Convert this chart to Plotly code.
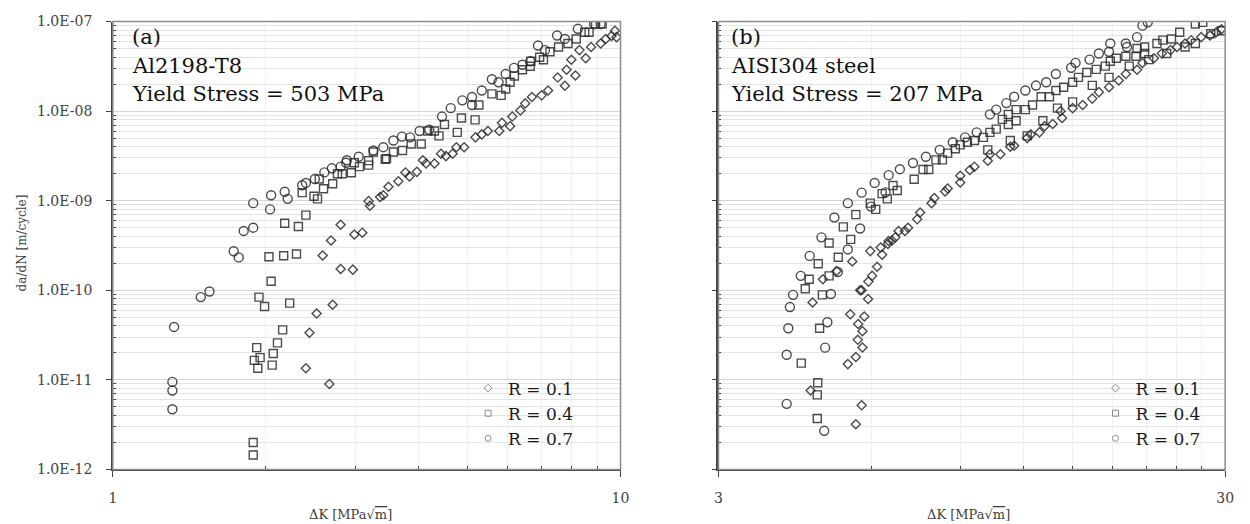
import plotly.graph_objects as go

# ---------------- Panel (a): Al2198-T8 ----------------
a_r01_dk = [2.67, 2.40, 2.44, 2.52, 2.71, 2.81, 2.97, 2.59, 2.69, 2.81, 2.99, 3.10, 3.19, 3.21, 3.36,
            3.41, 3.49, 3.65, 3.77, 3.84, 3.97, 4.08, 4.14, 4.30, 4.43, 4.53, 4.67, 4.75, 4.92, 5.18,
            5.33, 5.48, 5.77, 6.06, 5.84, 6.12, 6.35, 6.49, 6.69, 6.99, 7.20, 7.52, 7.83, 7.77, 8.15,
            8.00, 8.30, 8.54, 8.75, 9.14, 9.35, 9.60, 9.75, 9.82]
a_r01_dadn = [9.0e-12, 1.35e-11, 3.36e-11, 5.5e-11, 6.9e-11, 1.73e-10, 1.70e-10, 2.45e-10, 3.6e-10,
              5.4e-10, 4.2e-10, 4.4e-10, 9.9e-10, 8.8e-10, 1.1e-9, 1.15e-9, 1.43e-9, 1.65e-9, 2.07e-9,
              1.87e-9, 2.1e-9, 2.83e-9, 2.6e-9, 2.6e-9, 3.35e-9, 3.15e-9, 3.35e-9, 3.96e-9, 3.96e-9,
              5.1e-9, 5.5e-9, 6.0e-9, 6.0e-9, 6.8e-9, 7.4e-9, 8.7e-9, 1.02e-8, 1.22e-8, 1.44e-8, 1.5e-8,
              1.7e-8, 2.37e-8, 2.9e-8, 1.92e-8, 2.5e-8, 3.75e-8, 4.8e-8, 3.9e-8, 5.2e-8, 5.7e-8, 6.4e-8,
              6.9e-8, 7.9e-8, 6.7e-8]

a_r04_dk = [1.89, 1.89, 1.92, 1.90, 1.95, 1.93, 2.06, 2.07, 2.11, 2.16, 2.23, 1.94, 1.99, 2.05, 2.03,
            2.17, 2.30, 2.18, 2.32, 2.40, 2.49, 2.53, 2.36, 2.60, 2.71, 2.55, 2.77, 2.83, 2.95, 2.99,
            3.06, 3.19, 3.19, 3.44, 3.26, 3.46, 3.57, 3.72, 3.87, 4.05, 4.17, 4.30, 4.39, 4.50, 4.77,
            4.86, 5.17, 5.26, 5.58, 5.82, 5.94, 6.06, 6.18, 6.41, 6.66, 6.64, 6.93, 7.05, 7.26, 7.55,
            7.88, 8.18, 8.50, 8.67, 8.93, 9.20]
a_r04_dadn = [2.0e-12, 1.45e-12, 2.29e-11, 1.65e-11, 1.77e-11, 1.35e-11, 1.46e-11, 1.97e-11, 2.59e-11,
              3.62e-11, 7.2e-11, 8.4e-11, 6.6e-11, 1.26e-10, 2.37e-10, 2.43e-10, 2.54e-10, 5.6e-10,
              5.15e-10, 6.9e-10, 1.12e-9, 1.05e-9, 1.23e-9, 1.36e-9, 1.55e-9, 1.75e-9, 2.0e-9, 2.0e-9,
              2.05e-9, 2.65e-9, 2.4e-9, 2.5e-9, 2.8e-9, 2.9e-9, 3.5e-9, 2.95e-9, 3.5e-9, 3.63e-9, 4.3e-9,
              4.3e-9, 6.0e-9, 6.0e-9, 5.3e-9, 7.1e-9, 5.8e-9, 8.4e-9, 8.0e-9, 1.17e-8, 1.56e-8, 1.5e-8,
              1.77e-8, 2.1e-8, 2.47e-8, 2.9e-8, 3.6e-8, 3.17e-8, 4.0e-8, 3.75e-8, 4.6e-8, 5.2e-8, 5.7e-8,
              6.4e-8, 7.6e-8, 7.6e-8, 9.4e-8, 9.4e-8]

a_r07_dk = [1.32, 1.31, 1.31, 1.31, 1.49, 1.55, 1.73, 1.77, 1.81, 1.89, 1.89, 2.05, 2.04, 2.18, 2.21,
            2.36, 2.40, 2.50, 2.61, 2.70, 2.81, 2.88, 2.89, 3.05, 3.26, 3.41, 3.57, 3.71, 3.85, 4.02,
            4.20, 4.45, 4.63, 4.88, 5.10, 5.33, 5.58, 5.75, 5.94, 6.17, 6.41, 6.64, 6.88, 7.10, 7.50,
            7.77, 8.24, 8.87, 9.14, 5.10]
a_r07_dadn = [3.9e-11, 9.5e-12, 7.6e-12, 4.7e-12, 8.4e-11, 9.7e-11, 2.73e-10, 2.33e-10, 4.6e-10, 5.0e-10,
              9.4e-10, 1.15e-9, 8.0e-10, 1.26e-9, 1.05e-9, 1.49e-9, 1.58e-9, 1.75e-9, 2.07e-9, 2.3e-9,
              2.4e-9, 2.65e-9, 2.83e-9, 3.1e-9, 3.63e-9, 3.96e-9, 4.7e-9, 5.2e-9, 5.1e-9, 6.0e-9, 6.2e-9,
              8.7e-9, 1.08e-8, 1.32e-8, 1.44e-8, 1.7e-8, 2.27e-8, 2.1e-8, 2.6e-8, 3.04e-8, 3.3e-8, 3.6e-8,
              5.4e-8, 4.8e-8, 7.0e-8, 6.4e-8, 8.3e-8, 9.4e-8, 9.4e-8, 1.17e-8]

# ---------------- Panel (b): AISI304 steel ----------------
b_r01_dk = [5.60, 5.75, 4.56, 5.40, 5.60, 5.77, 5.65, 5.77, 5.66, 5.82, 5.46, 5.92, 4.60, 4.82, 5.51,
            5.13, 5.71, 5.75, 5.93, 6.03, 6.17, 5.98, 6.27, 6.31, 6.48, 6.60, 6.80, 6.50, 6.70, 7.00,
            7.10, 7.40, 7.50, 7.90, 8.00, 8.40, 8.50, 9.00, 9.00, 9.40, 9.60, 10.2, 10.3, 10.8, 11.3,
            11.5, 12.2, 12.4, 12.9, 13.2, 13.7, 14.3, 14.2, 15.0, 15.7, 16.4, 16.9, 17.7, 18.5, 19.1,
            20.1, 20.6, 21.7, 22.5, 23.4, 24.1, 25.0, 25.7, 26.9, 28.0, 28.8, 29.5]
b_r01_dadn = [3.2e-12, 5.2e-12, 7.6e-12, 1.5e-11, 1.8e-11, 2.3e-11, 2.8e-11, 3.5e-11, 4.2e-11, 5.1e-11,
              5.4e-11, 8.0e-11, 7.3e-11, 1.33e-10, 2.1e-10, 1.64e-10, 1.0e-10, 1.0e-10, 1.25e-10,
              1.45e-10, 1.83e-10, 2.74e-10, 3.0e-10, 2.5e-10, 3.3e-10, 3.6e-10, 4.6e-10, 3.55e-10,
              3.9e-10, 4.6e-10, 5.0e-10, 6.2e-10, 7.4e-10, 9.4e-10, 1.07e-9, 1.27e-9, 1.37e-9, 1.6e-9,
              1.9e-9, 2.2e-9, 2.4e-9, 2.8e-9, 3.3e-9, 3.3e-9, 4.0e-9, 4.1e-9, 5.0e-9, 5.5e-9, 5.8e-9,
              6.8e-9, 7.2e-9, 8.4e-9, 1.0e-8, 1.08e-8, 1.17e-8, 1.38e-8, 1.63e-8, 1.85e-8, 2.2e-8,
              2.6e-8, 2.9e-8, 3.45e-8, 3.9e-8, 4.4e-8, 4.8e-8, 5.2e-8, 5.7e-8, 6.2e-8, 6.7e-8, 7.0e-8,
              7.6e-8, 8.2e-8]

b_r04_dk = [4.70, 4.70, 4.71, 4.37, 4.75, 4.81, 4.45, 4.53, 4.96, 4.72, 5.17, 4.96, 5.47, 5.29, 5.60,
            5.98, 6.13, 6.31, 6.46, 6.63, 6.76, 7.30, 7.60, 7.80, 8.06, 8.30, 8.50, 8.80, 9.00, 9.30,
            9.60, 10.0, 10.3, 10.6, 10.9, 11.2, 11.2, 11.6, 11.6, 12.1, 12.5, 13.0, 13.5, 13.9, 14.4,
            15.0, 15.4, 16.0, 16.7, 17.4, 17.8, 18.3, 19.1, 20.0, 20.1, 20.8, 20.8, 22.0, 22.6, 23.5,
            24.4, 26.2, 27.1, 10.2, 11.3, 12.2, 13.1, 14.0, 15.0, 16.4, 17.7, 19.4, 21.2, 23.0, 25.0,
            26.2, 28.1, 29.5]
b_r04_dadn = [3.7e-12, 6.8e-12, 9.3e-12, 1.54e-11, 3.77e-11, 8.9e-11, 1.04e-10, 1.33e-10, 1.45e-10,
              1.98e-10, 2.34e-10, 3.37e-10, 3.7e-10, 5.1e-10, 7.0e-10, 9.4e-10, 8.0e-10, 1.2e-9, 1.05e-9,
              1.48e-9, 1.3e-9, 1.74e-9, 2.23e-9, 2.23e-9, 2.86e-9, 2.86e-9, 3.4e-9, 3.8e-9, 4.2e-9,
              4.5e-9, 4.7e-9, 5.1e-9, 5.8e-9, 6.3e-9, 8.1e-9, 9.2e-9, 7.1e-9, 7.8e-9, 1.04e-8, 1.04e-8,
              1.17e-8, 1.45e-8, 1.45e-8, 1.7e-8, 1.85e-8, 2.1e-8, 2.38e-8, 2.7e-8, 2.93e-8, 3.18e-8,
              3.6e-8, 3.9e-8, 4.1e-8, 4.1e-8, 5.0e-8, 5.2e-8, 4.4e-8, 5.7e-8, 6.2e-8, 6.4e-8, 7.6e-8,
              9.4e-8, 9.8e-8, 3.7e-9, 4.7e-9, 5.3e-9, 7.8e-9, 1.08e-8, 1.27e-8, 1.94e-8, 2.38e-8,
              3.18e-8, 3.76e-8, 4.4e-8, 5.2e-8, 5.7e-8, 7.3e-8, 7.9e-8]

b_r07_dk = [4.09, 4.85, 4.09, 4.87, 4.12, 4.92, 4.15, 4.21, 5.00, 4.36, 5.16, 4.54, 4.79, 5.40, 5.08,
            5.40, 5.71, 5.75, 6.10, 6.50, 6.84, 6.00, 6.41, 7.26, 7.70, 8.20, 8.70, 9.20, 9.70, 10.3,
            10.6, 11.1, 11.5, 12.1, 12.7, 13.3, 13.9, 14.9, 15.2, 16.2, 16.9, 17.7, 17.8, 19.1, 19.2,
            20.1, 20.6, 21.1]
b_r07_dadn = [5.4e-12, 2.7e-12, 1.91e-11, 2.29e-11, 3.77e-11, 4.4e-11, 6.5e-11, 8.9e-11, 9.1e-11,
              1.45e-10, 1.6e-10, 2.42e-10, 3.9e-10, 2.86e-10, 6.5e-10, 9.4e-10, 4.9e-10, 1.23e-9, 1.58e-9,
              1.93e-9, 2.25e-9, 8.6e-10, 1.24e-9, 2.64e-9, 3.1e-9, 3.7e-9, 4.5e-9, 5.1e-9, 5.8e-9, 9.2e-9,
              1.04e-8, 1.23e-8, 1.45e-8, 1.7e-8, 1.93e-8, 2.1e-8, 2.6e-8, 3.05e-8, 3.46e-8, 3.76e-8,
              4.4e-8, 4.6e-8, 5.7e-8, 5.7e-8, 5.2e-8, 6.7e-8, 9.0e-8, 9.8e-8]

series_names = ["R = 0.1", "R = 0.4", "R = 0.7"]
y_tick_vals = [1e-12, 1e-11, 1e-10, 1e-9, 1e-8, 1e-7]
y_tick_text = ["1.0E-12", "1.0E-11", "1.0E-10", "1.0E-09", "1.0E-08", "1.0E-07"]
a_x_ticks = [1, 10]
a_x_minor = [2, 3, 4, 5, 6, 7, 8, 9]
b_x_ticks = [3, 30]
b_x_minor = [6, 9, 12, 15, 18, 21, 24, 27]

W, H = 1250, 524
MC = "rgba(45,45,45,0.85)"
LEGC = "#8a8a8a"
SERIF = "DejaVu Serif"
TICKF = "DejaVu Serif"

symbols = ["diamond-open", "square-open", "circle-open"]
sizes = [7, 8, 9]

fig = go.Figure()

panels = [
    ("x", "y", "legend", [(a_r01_dk, a_r01_dadn), (a_r04_dk, a_r04_dadn), (a_r07_dk, a_r07_dadn)]),
    ("x2", "y2", "legend2", [(b_r01_dk, b_r01_dadn), (b_r04_dk, b_r04_dadn), (b_r07_dk, b_r07_dadn)]),
]
for xa, ya, lg, data in panels:
    for i, (xs, ys) in enumerate(data):
        fig.add_trace(go.Scatter(
            x=xs, y=ys, mode="markers", xaxis=xa, yaxis=ya, showlegend=False, name=series_names[i],
            marker=dict(symbol=symbols[i], size=sizes[i], color=MC, line=dict(width=1.4, color=MC))))
    for i in range(3):
        fig.add_trace(go.Scatter(
            x=[None], y=[None], mode="markers", xaxis=xa, yaxis=ya, legend=lg, name=series_names[i],
            marker=dict(symbol=symbols[i], size=6, color=LEGC, line=dict(width=1, color=LEGC))))

def px2x(p):
    return p / W

def py2y(p):
    return 1 - p / H

y_minor = [k * 10.0 ** e for e in range(-12, -7) for k in range(2, 10)]

common_y = dict(type="log", range=[-12, -7], domain=[py2y(476), py2y(14)],
                tickvals=y_tick_vals, showgrid=True, gridcolor="#d4d4d4", gridwidth=1,
                ticks="outside", ticklen=5, tickcolor="#404040",
                showline=True, linecolor="#404040", linewidth=1.5, zeroline=False,
                minor=dict(tickvals=y_minor, showgrid=True, gridcolor="#e4e4e4", gridwidth=1,
                           ticks="inside", ticklen=3, tickcolor="#404040"))

fig.update_layout(
    width=W, height=H, margin=dict(l=0, r=0, t=0, b=0),
    paper_bgcolor="white", plot_bgcolor="white",
    xaxis=dict(type="log", range=[0, 1], domain=[px2x(110), px2x(623)], anchor="y",
               tickvals=a_x_ticks, ticktext=[str(v) for v in a_x_ticks],
               ticks="outside", ticklen=6, tickcolor="#404040", showgrid=False,
               showline=True, linecolor="#404040", linewidth=1.5, zeroline=False,
               tickfont=dict(family=TICKF, size=14, color="#404040"), ticklabelstandoff=9,
               minor=dict(tickvals=a_x_minor, showgrid=True, gridcolor="#f0f0f0",
                          ticks="inside", ticklen=4, tickcolor="#404040")),
    yaxis=dict(**common_y, anchor="x", ticktext=y_tick_text, showticklabels=True,
               tickfont=dict(family=TICKF, size=14, color="#404040"), ticklabelstandoff=11),
    xaxis2=dict(type="log", range=[0.47712125, 1.47712125], domain=[px2x(722), px2x(1234)], anchor="y2",
                tickvals=b_x_ticks, ticktext=[str(v) for v in b_x_ticks],
                ticks="outside", ticklen=6, tickcolor="#404040", showgrid=False,
                showline=True, linecolor="#404040", linewidth=1.5, zeroline=False,
                tickfont=dict(family=TICKF, size=14, color="#404040"), ticklabelstandoff=9,
                minor=dict(tickvals=b_x_minor, showgrid=True, gridcolor="#f0f0f0",
                           ticks="inside", ticklen=4, tickcolor="#404040")),
    yaxis2=dict(**common_y, anchor="x2", showticklabels=False),
    legend=dict(x=px2x(469), y=py2y(374), xanchor="left", yanchor="top",
                bgcolor="rgba(0,0,0,0)", itemwidth=30, tracegroupgap=0,
                font=dict(family=SERIF, size=17, color="#1a1a1a")),
    legend2=dict(x=px2x(1103), y=py2y(374), xanchor="left", yanchor="top",
                 bgcolor="rgba(0,0,0,0)", itemwidth=30, tracegroupgap=0,
                 font=dict(family=SERIF, size=17, color="#1a1a1a")),
)

# plot frames
for xr, yr in [("x domain", "y domain"), ("x2 domain", "y2 domain")]:
    fig.add_shape(type="rect", xref=xr, yref=yr, x0=0, x1=1, y0=0, y1=1,
                  line=dict(color="#8c8c8c", width=1.5), layer="above")

# panel labels
labels = [
    (127, ["(a)", "Al2198-T8", "Yield Stress = 503 MPa"]),
    (733, ["(b)", "AISI304 steel", "Yield Stress = 207 MPa"]),
]
for xpix, lines in labels:
    for j, t in enumerate(lines):
        fig.add_annotation(text=t, xref="paper", yref="paper", x=px2x(xpix), y=py2y(30 + 29.5 * j),
                           xanchor="left", yanchor="middle", showarrow=False,
                           font=dict(family=SERIF, size=21, color="#111111"))

# axis titles
xtitle = "ΔK [MPa√<span style='text-decoration:overline'>m</span>]"
for xc in [350, 975]:
    fig.add_annotation(text=xtitle, xref="paper", yref="paper", x=px2x(xc), y=py2y(522),
                       xanchor="center", yanchor="middle", showarrow=False,
                       font=dict(family=TICKF, size=13, color="#404040"))
fig.add_annotation(text="da/dN [m/cycle]", xref="paper", yref="paper", x=px2x(18), y=py2y(242),
                   xanchor="center", yanchor="middle", showarrow=False, textangle=-90,
                   font=dict(family=TICKF, size=12, color="#404040"))

fig.write_html("out.html")
